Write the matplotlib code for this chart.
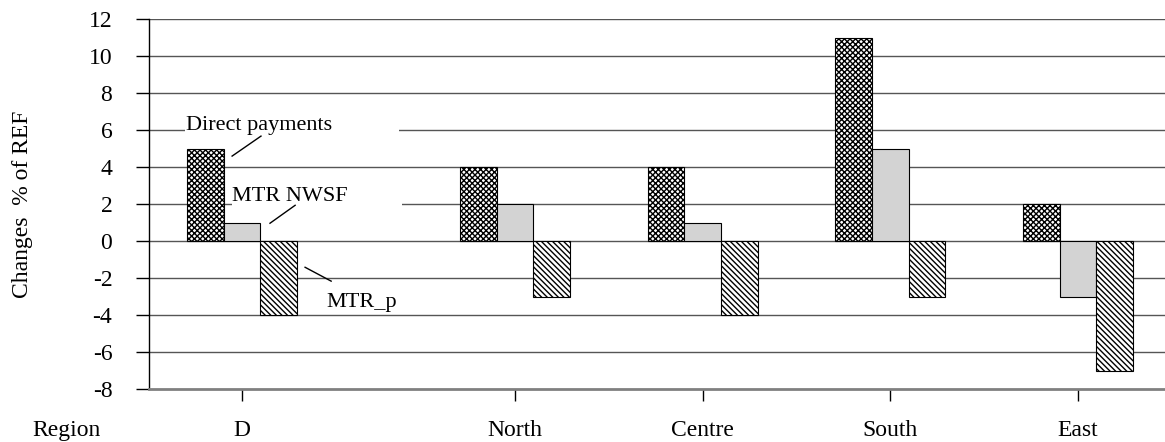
import matplotlib.pyplot as plt
import numpy as np
from matplotlib.patches import Rectangle

plt.rcParams['font.family'] = ['Liberation Serif', 'DejaVu Serif']
plt.rcParams['hatch.linewidth'] = 1.0
plt.rcParams['axes.unicode_minus'] = False

# data
regions = ['D', 'North', 'Centre', 'South', 'East']
direct_payments = [5, 4, 4, 11, 2]
mtr_nwsf = [1, 2, 1, 5, -3]
mtr_p = [-4, -3, -4, -3, -7]
yticks = list(range(-8, 13, 2))

# group centres (uneven spacing as in the original)
pos = np.array([0, 1.456, 2.456, 3.456, 4.456])
bw = 0.195

fig = plt.figure(figsize=(11.65, 4.42), dpi=100)
ax = fig.add_axes([149 / 1165, 53 / 442, 1 - 149 / 1165, 370 / 442])

ax.bar(pos - bw, direct_payments, bw, facecolor='white', edgecolor='black',
       hatch='xxxxxx', lw=0.8, zorder=3)
ax.bar(pos, mtr_nwsf, bw, facecolor='#d3d3d3', edgecolor='black', lw=0.8, zorder=3)
ax.bar(pos + bw, mtr_p, bw, facecolor='white', edgecolor='black',
       hatch='\\\\\\\\\\\\', lw=0.8, zorder=3)

# horizontal grid
for v in yticks[1:]:
    ax.axhline(v, color='#555555', lw=1, zorder=1)

ax.set_xlim(-0.496, 4.92)
ax.set_ylim(-8, 12)
ax.set_yticks(yticks)
ax.set_xticks(pos)
ax.set_xticklabels(regions)

ax.spines['top'].set_visible(False)
ax.spines['right'].set_visible(False)
ax.spines['bottom'].set_color('#808080')
ax.spines['bottom'].set_linewidth(2)
ax.spines['left'].set_linewidth(1)
ax.tick_params(axis='y', direction='out', length=9.4, width=1, pad=17, labelsize=17)
ax.tick_params(axis='x', direction='out', length=8.5, width=1, pad=13.5, labelsize=17)

ax.set_ylabel('Changes  % of REF', fontsize=17, labelpad=40)
fig.text(32 / 1165, 1 - 436 / 442, 'Region', fontsize=17, va='baseline', ha='left')

# labels with white boxes interrupting grid lines
ax.add_patch(Rectangle((-0.304, 5.6), 1.14, 0.8, facecolor='white', edgecolor='none', zorder=2))
ax.add_patch(Rectangle((-0.053, 1.6), 0.906, 0.8, facecolor='white', edgecolor='none', zorder=2))

ax.text(-0.299, 5.99, 'Direct payments', fontsize=16, va='baseline', zorder=4)
ax.plot([-0.053, 0.101], [4.59, 5.67], color='black', lw=1, zorder=4)
ax.text(-0.053, 2.17, 'MTR NWSF', fontsize=16, va='baseline', zorder=4)
ax.plot([0.149, 0.283], [0.96, 1.93], color='black', lw=1, zorder=4)
ax.text(0.448, -3.57, 'MTR_p', fontsize=16, va='baseline', zorder=4)
ax.plot([0.336, 0.475], [-1.42, -2.17], color='black', lw=1, zorder=4)

fig.savefig('out.png', dpi=100)
